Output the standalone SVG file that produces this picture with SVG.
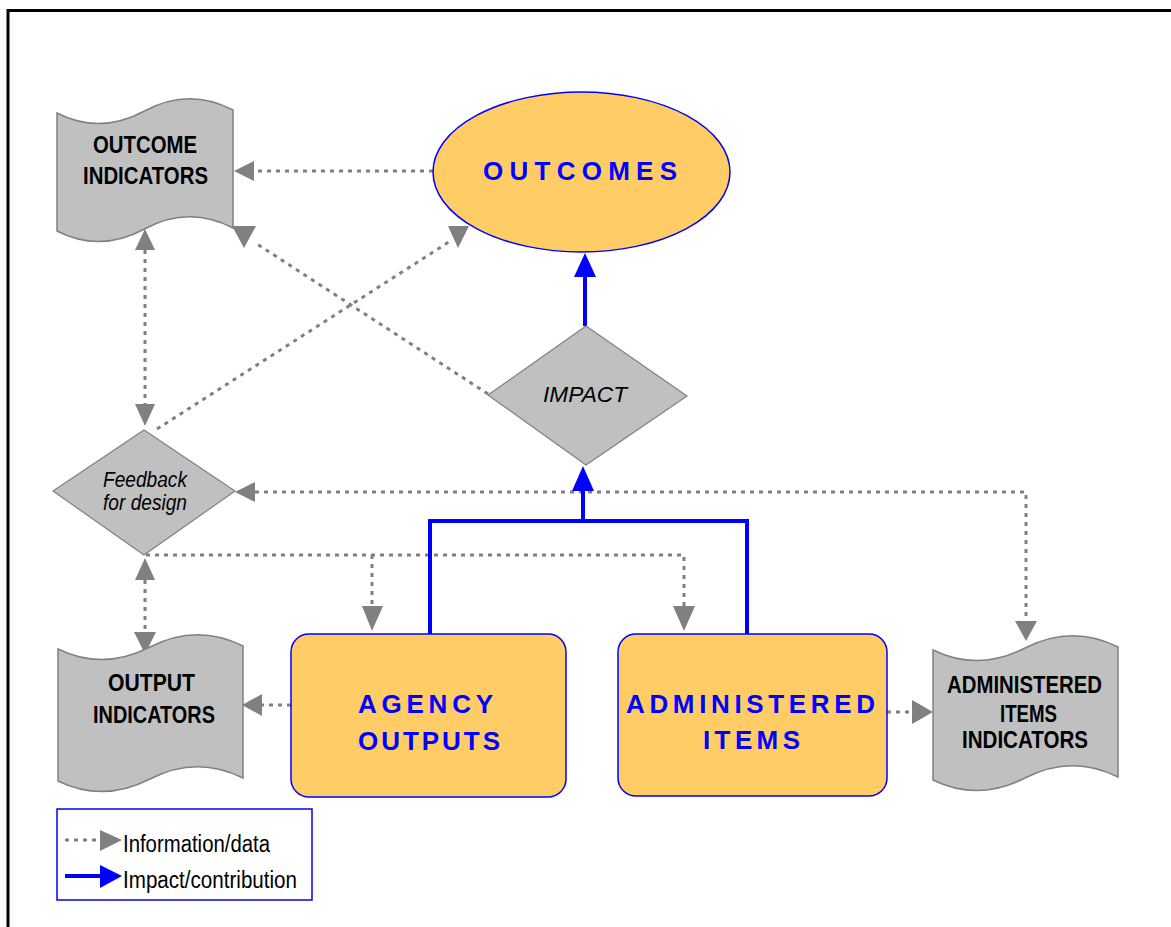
<svg xmlns="http://www.w3.org/2000/svg" width="1171" height="927" viewBox="0 0 1171 927">
<defs>
<style>
.doc{fill:#C0C0C0;stroke:#808080;stroke-width:1.5}
.dia{fill:#C0C0C0;stroke:#808080;stroke-width:1.2}
.org{fill:#FFCC66;stroke:#0000FF;stroke-width:1.5}
.dt{stroke:#808080;stroke-width:3;stroke-dasharray:4 5;fill:none}
.bl{stroke:#0000FF;stroke-width:4;fill:none}
.ah{fill:#808080}
.ab{fill:#0000FF}
.dtx{font-family:"Liberation Sans",Arial,sans-serif;font-weight:bold;font-size:24px;fill:#000;text-anchor:middle}
.btx{font-family:"Liberation Sans",Arial,sans-serif;font-weight:bold;font-size:26px;fill:#0000FF;text-anchor:middle}
.itx{font-family:"Liberation Sans",Arial,sans-serif;font-style:italic;font-size:22px;fill:#000;text-anchor:middle}
.ltx{font-family:"Liberation Sans",Arial,sans-serif;font-size:23px;fill:#000}
</style>
</defs>
<rect width="1171" height="927" fill="#FFFFFF"/>
<path d="M8,927 V10.5 H1171" fill="none" stroke="#000" stroke-width="3"/>

<g id="connectors">
<path class="dt" d="M433,171 H254"/>
<path class="dt" d="M145,250 V404"/>
<path class="dt" d="M157,429 L452,240"/>
<path class="dt" d="M488,394 L254,242"/>
<path class="dt" d="M255,492 H1026 V621"/>
<path class="dt" d="M146,555 H684 V606"/>
<path class="dt" d="M372,555 V606"/>
<path class="dt" d="M145,580 V632"/>
<path class="dt" d="M291,705 H262"/>
<path class="dt" d="M887,712 H912"/>
<polygon class="ah" points="234,171 254,161 254,181"/>
<polygon class="ah" points="145,229 135,250 155,250"/>
<polygon class="ah" points="145,426 135,404 155,404"/>
<polygon class="ah" points="448,226 469,226 458,248"/>
<polygon class="ah" points="232,226 256,226 244,248"/>
<polygon class="ah" points="235,492 255,482 255,502"/>
<polygon class="ah" points="1026,641 1015,621 1037,621"/>
<polygon class="ah" points="372,631 362,606 383,606"/>
<polygon class="ah" points="684,631 673,606 695,606"/>
<polygon class="ah" points="145,558 135,580 155,580"/>
<polygon class="ah" points="145,654 134,632 156,632"/>
<polygon class="ah" points="242,705 262,694 262,716"/>
<polygon class="ah" points="933,712 912,700 912,724"/>
<path class="bl" d="M585,277 V326"/>
<path class="bl" d="M583,491 V521 M430,634 V521 H747 V634"/>
<polygon class="ab" points="585,253 574,277 596,277"/>
<polygon class="ab" points="583,466 572,491 594,491"/>
</g>

<g id="outcome-indicators">
<path class="doc" d="M57,113 Q100,135 144.5,111 T233,110 L233,228 Q189,205 144.5,229 Q100,253 57,231 Z"/>
<text class="dtx" x="145" y="153" textLength="104" lengthAdjust="spacingAndGlyphs">OUTCOME</text>
<text class="dtx" x="145.5" y="184" textLength="125" lengthAdjust="spacingAndGlyphs">INDICATORS</text>
</g>

<g id="outcomes">
<ellipse class="org" cx="581.5" cy="172" rx="148.5" ry="80"/>
<text class="btx" x="580" y="180" font-size="28" textLength="194" lengthAdjust="spacing">OUTCOMES</text>
</g>

<g id="impact">
<polygon class="dia" points="586,326 687,396 586,465 488,395"/>
<text class="itx" x="585" y="402" font-size="24" textLength="84" lengthAdjust="spacingAndGlyphs">IMPACT</text>
</g>

<g id="feedback">
<polygon class="dia" points="144,430 235,491 144,555 53,491"/>
<text class="itx" x="145" y="487" font-size="21" textLength="84" lengthAdjust="spacingAndGlyphs">Feedback</text>
<text class="itx" x="145" y="510" font-size="21" textLength="84" lengthAdjust="spacingAndGlyphs">for design</text>
</g>

<g id="output-indicators">
<path class="doc" d="M58,649 Q103,671 150,647 T243,646 L243,778 Q197,755 150,779 Q103,803 58,781 Z"/>
<text class="dtx" x="151.5" y="691" textLength="87" lengthAdjust="spacingAndGlyphs">OUTPUT</text>
<text class="dtx" x="154" y="723" textLength="122" lengthAdjust="spacingAndGlyphs">INDICATORS</text>
</g>

<g id="agency-outputs">
<rect class="org" x="291" y="634" width="275" height="163" rx="18"/>
<text class="btx" x="425.5" y="713" textLength="135" lengthAdjust="spacing">AGENCY</text>
<text class="btx" x="429" y="750" textLength="142" lengthAdjust="spacing">OUTPUTS</text>
</g>

<g id="administered-items">
<rect class="org" x="618" y="634" width="269" height="162" rx="18"/>
<text class="btx" x="750.5" y="713" textLength="249" lengthAdjust="spacing">ADMINISTERED</text>
<text class="btx" x="751.5" y="749" textLength="97" lengthAdjust="spacing">ITEMS</text>
</g>

<g id="administered-items-indicators">
<path class="doc" d="M933,650 Q978,672 1025,648 T1118,647 L1118,777 Q1072,754 1025,778 Q978,802 933,780 Z"/>
<text class="dtx" x="1024.5" y="693" textLength="155" lengthAdjust="spacingAndGlyphs">ADMINISTERED</text>
<text class="dtx" x="1028.5" y="722" textLength="57" lengthAdjust="spacingAndGlyphs">ITEMS</text>
<text class="dtx" x="1025" y="748" textLength="126" lengthAdjust="spacingAndGlyphs">INDICATORS</text>
</g>

<g id="legend">
<rect x="57" y="809" width="255" height="91" fill="#FFFFFF" stroke="#0000FF" stroke-width="1.5"/>
<path class="dt" d="M65,840 H100"/>
<polygon class="ah" points="100,830 100,851 122,840"/>
<path class="bl" d="M65,876 H100"/>
<polygon class="ab" points="100,865 100,888 122,876"/>
<text class="ltx" x="123" y="852" textLength="147" lengthAdjust="spacingAndGlyphs">Information/data</text>
<text class="ltx" x="123" y="888" textLength="174" lengthAdjust="spacingAndGlyphs">Impact/contribution</text>
</g>
</svg>
